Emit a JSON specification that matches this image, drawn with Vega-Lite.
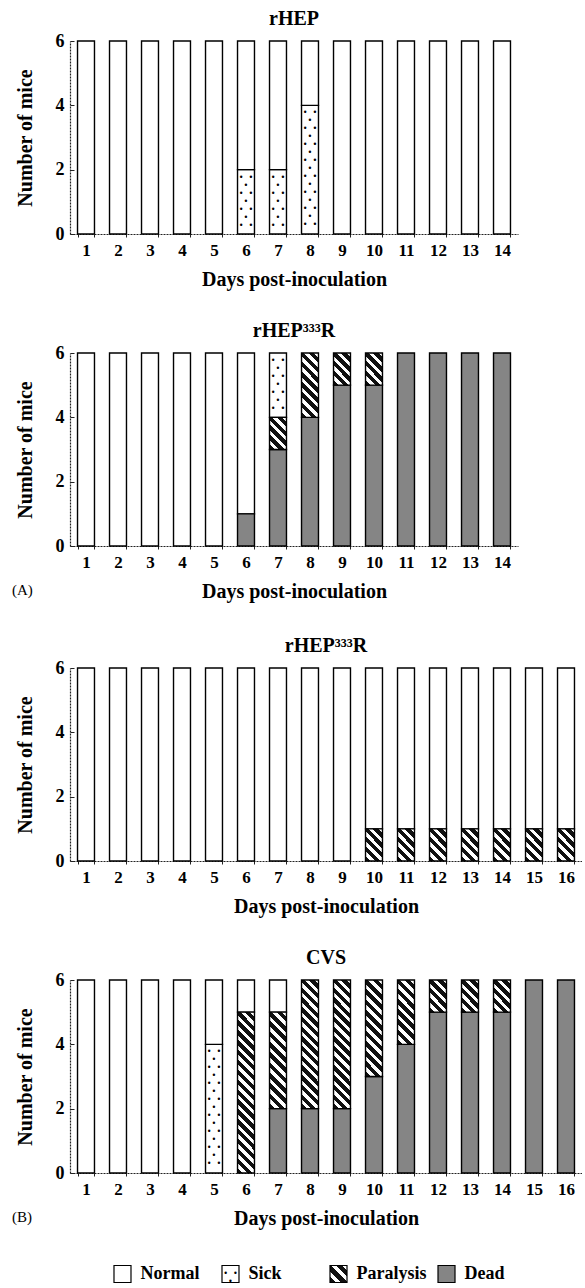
{
"$schema": "https://vega.github.io/schema/vega-lite/v6.json",
"background": "#ffffff",
"padding": {"left": 12, "top": 9, "right": 0, "bottom": 0},
"datasets": {
"mice": [
{"panel":"A1","day":1,"status":"Normal","count":6},
{"panel":"A1","day":2,"status":"Normal","count":6},
{"panel":"A1","day":3,"status":"Normal","count":6},
{"panel":"A1","day":4,"status":"Normal","count":6},
{"panel":"A1","day":5,"status":"Normal","count":6},
{"panel":"A1","day":6,"status":"Sick","count":2},
{"panel":"A1","day":6,"status":"Normal","count":4},
{"panel":"A1","day":7,"status":"Sick","count":2},
{"panel":"A1","day":7,"status":"Normal","count":4},
{"panel":"A1","day":8,"status":"Sick","count":4},
{"panel":"A1","day":8,"status":"Normal","count":2},
{"panel":"A1","day":9,"status":"Normal","count":6},
{"panel":"A1","day":10,"status":"Normal","count":6},
{"panel":"A1","day":11,"status":"Normal","count":6},
{"panel":"A1","day":12,"status":"Normal","count":6},
{"panel":"A1","day":13,"status":"Normal","count":6},
{"panel":"A1","day":14,"status":"Normal","count":6},
{"panel":"A2","day":1,"status":"Normal","count":6},
{"panel":"A2","day":2,"status":"Normal","count":6},
{"panel":"A2","day":3,"status":"Normal","count":6},
{"panel":"A2","day":4,"status":"Normal","count":6},
{"panel":"A2","day":5,"status":"Normal","count":6},
{"panel":"A2","day":6,"status":"Dead","count":1},
{"panel":"A2","day":6,"status":"Normal","count":5},
{"panel":"A2","day":7,"status":"Dead","count":3},
{"panel":"A2","day":7,"status":"Paralysis","count":1},
{"panel":"A2","day":7,"status":"Sick","count":2},
{"panel":"A2","day":8,"status":"Dead","count":4},
{"panel":"A2","day":8,"status":"Paralysis","count":2},
{"panel":"A2","day":9,"status":"Dead","count":5},
{"panel":"A2","day":9,"status":"Paralysis","count":1},
{"panel":"A2","day":10,"status":"Dead","count":5},
{"panel":"A2","day":10,"status":"Paralysis","count":1},
{"panel":"A2","day":11,"status":"Dead","count":6},
{"panel":"A2","day":12,"status":"Dead","count":6},
{"panel":"A2","day":13,"status":"Dead","count":6},
{"panel":"A2","day":14,"status":"Dead","count":6},
{"panel":"B1","day":1,"status":"Normal","count":6},
{"panel":"B1","day":2,"status":"Normal","count":6},
{"panel":"B1","day":3,"status":"Normal","count":6},
{"panel":"B1","day":4,"status":"Normal","count":6},
{"panel":"B1","day":5,"status":"Normal","count":6},
{"panel":"B1","day":6,"status":"Normal","count":6},
{"panel":"B1","day":7,"status":"Normal","count":6},
{"panel":"B1","day":8,"status":"Normal","count":6},
{"panel":"B1","day":9,"status":"Normal","count":6},
{"panel":"B1","day":10,"status":"Paralysis","count":1},
{"panel":"B1","day":10,"status":"Normal","count":5},
{"panel":"B1","day":11,"status":"Paralysis","count":1},
{"panel":"B1","day":11,"status":"Normal","count":5},
{"panel":"B1","day":12,"status":"Paralysis","count":1},
{"panel":"B1","day":12,"status":"Normal","count":5},
{"panel":"B1","day":13,"status":"Paralysis","count":1},
{"panel":"B1","day":13,"status":"Normal","count":5},
{"panel":"B1","day":14,"status":"Paralysis","count":1},
{"panel":"B1","day":14,"status":"Normal","count":5},
{"panel":"B1","day":15,"status":"Paralysis","count":1},
{"panel":"B1","day":15,"status":"Normal","count":5},
{"panel":"B1","day":16,"status":"Paralysis","count":1},
{"panel":"B1","day":16,"status":"Normal","count":5},
{"panel":"B2","day":1,"status":"Normal","count":6},
{"panel":"B2","day":2,"status":"Normal","count":6},
{"panel":"B2","day":3,"status":"Normal","count":6},
{"panel":"B2","day":4,"status":"Normal","count":6},
{"panel":"B2","day":5,"status":"Sick","count":4},
{"panel":"B2","day":5,"status":"Normal","count":2},
{"panel":"B2","day":6,"status":"Paralysis","count":5},
{"panel":"B2","day":6,"status":"Normal","count":1},
{"panel":"B2","day":7,"status":"Dead","count":2},
{"panel":"B2","day":7,"status":"Paralysis","count":3},
{"panel":"B2","day":7,"status":"Normal","count":1},
{"panel":"B2","day":8,"status":"Dead","count":2},
{"panel":"B2","day":8,"status":"Paralysis","count":4},
{"panel":"B2","day":9,"status":"Dead","count":2},
{"panel":"B2","day":9,"status":"Paralysis","count":4},
{"panel":"B2","day":10,"status":"Dead","count":3},
{"panel":"B2","day":10,"status":"Paralysis","count":3},
{"panel":"B2","day":11,"status":"Dead","count":4},
{"panel":"B2","day":11,"status":"Paralysis","count":2},
{"panel":"B2","day":12,"status":"Dead","count":5},
{"panel":"B2","day":12,"status":"Paralysis","count":1},
{"panel":"B2","day":13,"status":"Dead","count":5},
{"panel":"B2","day":13,"status":"Paralysis","count":1},
{"panel":"B2","day":14,"status":"Dead","count":5},
{"panel":"B2","day":14,"status":"Paralysis","count":1},
{"panel":"B2","day":15,"status":"Dead","count":6},
{"panel":"B2","day":16,"status":"Dead","count":6}
]
},
"config": {
"font": "Liberation Serif",
"view": {"stroke": null},
"title": {"font": "Liberation Serif", "fontSize": 20, "fontWeight": "bold", "color": "#000", "offset": 3},
"axis": {"labelFont": "Liberation Serif", "labelFontSize": 17, "labelFontWeight": "bold", "labelColor": "#000", "titleFont": "Liberation Serif", "titleFontWeight": "bold", "titleColor": "#000", "domainColor": "#222", "domainWidth": 1.2, "domainDash": [2, 1], "tickColor": "#222", "grid": false},
"axisX": {"labelAngle": 0, "titleFontSize": 20, "tickBand": "extent", "tickSize": 3, "labelPadding": 5, "titlePadding": 11},
"axisY": {"labelFontSize": 18, "titleFontSize": 20, "tickCount": 3, "tickSize": -4, "labelPadding": 10, "titlePadding": 20}
},
"spacing": 35,
"vconcat": [
{
"spacing": 32,
"title": {"text": "(A)", "orient": "bottom", "anchor": "start", "fontSize": 15, "fontWeight": "normal", "offset": -18, "dx": -3},
"vconcat": [
{
"title": "rHEP",
"width": 448, "height": 193,
"data": {"name": "mice"},
"transform": [
{"filter": {"field": "panel", "equal": "A1"}},
{"lookup": "status", "from": {"data": {"values": [{"status":"Normal","rank":0},{"status":"Sick","rank":1},{"status":"Paralysis","rank":2},{"status":"Dead","rank":3}]}, "key": "status", "fields": ["rank"]}},
{"stack": "count", "groupby": ["day"], "sort": [{"field": "rank", "order": "descending"}], "as": ["y0", "y1"]}
],
"encoding": {
"x": {"field": "day", "type": "ordinal", "scale": {"paddingInner": 0.47, "paddingOuter": 0.235}, "title": "Days post-inoculation"},
"y": {"field": "y0", "type": "quantitative", "scale": {"domain": [0, 6]}, "title": "Number of mice"},
"y2": {"field": "y1"}
},
"layer": [
{"transform": [{"filter": {"field": "status", "oneOf": ["Normal", "Sick"]}}], "mark": {"type": "bar", "fill": "#fff", "stroke": "#000", "strokeWidth": 1.4}},
{"transform": [{"filter": {"and": [{"field": "status", "equal": "Sick"}, {"field": "count", "equal": 2}]}}],
 "mark": {"type": "text", "font": "DejaVu Sans Mono", "fontSize": 8, "lineHeight": 8, "baseline": "top", "align": "center", "dy": 4, "fill": "#000",
 "text": ["\u2022\u00a0\u2022", "\u00a0\u2022\u00a0", "\u2022\u00a0\u2022", "\u00a0\u2022\u00a0", "\u2022\u00a0\u2022", "\u00a0\u2022\u00a0", "\u2022\u00a0\u2022"]},
 "encoding": {"y": {"field": "y1", "type": "quantitative", "scale": {"domain": [0, 6]}, "title": "Number of mice"}}},
{"transform": [{"filter": {"and": [{"field": "status", "equal": "Sick"}, {"field": "count", "equal": 4}]}}],
 "mark": {"type": "text", "font": "DejaVu Sans Mono", "fontSize": 8, "lineHeight": 8, "baseline": "top", "align": "center", "dy": 4, "fill": "#000",
 "text": ["\u2022\u00a0\u2022", "\u00a0\u2022\u00a0", "\u2022\u00a0\u2022", "\u00a0\u2022\u00a0", "\u2022\u00a0\u2022", "\u00a0\u2022\u00a0", "\u2022\u00a0\u2022", "\u00a0\u2022\u00a0", "\u2022\u00a0\u2022", "\u00a0\u2022\u00a0", "\u2022\u00a0\u2022", "\u00a0\u2022\u00a0", "\u2022\u00a0\u2022", "\u00a0\u2022\u00a0", "\u2022\u00a0\u2022"]},
 "encoding": {"y": {"field": "y1", "type": "quantitative", "scale": {"domain": [0, 6]}, "title": "Number of mice"}}}
]
},
{
"title": "rHEP\u00b3\u00b3\u00b3R",
"width": 448, "height": 193,
"data": {"name": "mice"},
"transform": [
{"filter": {"field": "panel", "equal": "A2"}},
{"lookup": "status", "from": {"data": {"values": [{"status":"Normal","rank":0},{"status":"Sick","rank":1},{"status":"Paralysis","rank":2},{"status":"Dead","rank":3}]}, "key": "status", "fields": ["rank"]}},
{"stack": "count", "groupby": ["day"], "sort": [{"field": "rank", "order": "descending"}], "as": ["y0", "y1"]}
],
"encoding": {
"x": {"field": "day", "type": "ordinal", "scale": {"paddingInner": 0.47, "paddingOuter": 0.235}, "title": "Days post-inoculation"},
"y": {"field": "y0", "type": "quantitative", "scale": {"domain": [0, 6]}, "title": "Number of mice"},
"y2": {"field": "y1"}
},
"layer": [
{"transform": [{"filter": {"field": "status", "oneOf": ["Normal", "Sick"]}}], "mark": {"type": "bar", "fill": "#fff", "stroke": "#000", "strokeWidth": 1.4}},
{"transform": [{"filter": {"field": "status", "equal": "Dead"}}], "mark": {"type": "bar", "fill": "#858585", "stroke": "#000", "strokeWidth": 1.4}},
{"transform": [{"filter": {"and": [{"field": "status", "equal": "Paralysis"}, {"field": "count", "equal": 1}]}}],
 "mark": {"type": "bar", "stroke": "#000", "strokeWidth": 1.4, "fill": {"gradient": "linear", "x1": 0, "y1": 1, "x2": 0.6315, "y2": -0.1948, "stops": [
{"offset":0,"color":"#111"},{"offset":0.11,"color":"#111"},{"offset":0.11,"color":"#fff"},{"offset":0.2,"color":"#fff"},
{"offset":0.2,"color":"#111"},{"offset":0.31,"color":"#111"},{"offset":0.31,"color":"#fff"},{"offset":0.4,"color":"#fff"},
{"offset":0.4,"color":"#111"},{"offset":0.51,"color":"#111"},{"offset":0.51,"color":"#fff"},{"offset":0.6,"color":"#fff"},
{"offset":0.6,"color":"#111"},{"offset":0.71,"color":"#111"},{"offset":0.71,"color":"#fff"},{"offset":0.8,"color":"#fff"},
{"offset":0.8,"color":"#111"},{"offset":0.91,"color":"#111"},{"offset":0.91,"color":"#fff"},{"offset":1,"color":"#fff"}]}}},
{"transform": [{"filter": {"and": [{"field": "status", "equal": "Paralysis"}, {"field": "count", "equal": 2}]}}],
 "mark": {"type": "bar", "stroke": "#000", "strokeWidth": 1.4, "fill": {"gradient": "linear", "x1": 0, "y1": 1, "x2": 0.3123, "y2": -0.1818, "stops": [
{"offset":0,"color":"#111"},{"offset":0.0688,"color":"#111"},{"offset":0.0688,"color":"#fff"},{"offset":0.125,"color":"#fff"},
{"offset":0.125,"color":"#111"},{"offset":0.1938,"color":"#111"},{"offset":0.1938,"color":"#fff"},{"offset":0.25,"color":"#fff"},
{"offset":0.25,"color":"#111"},{"offset":0.3188,"color":"#111"},{"offset":0.3188,"color":"#fff"},{"offset":0.375,"color":"#fff"},
{"offset":0.375,"color":"#111"},{"offset":0.4438,"color":"#111"},{"offset":0.4438,"color":"#fff"},{"offset":0.5,"color":"#fff"},
{"offset":0.5,"color":"#111"},{"offset":0.5688,"color":"#111"},{"offset":0.5688,"color":"#fff"},{"offset":0.625,"color":"#fff"},
{"offset":0.625,"color":"#111"},{"offset":0.6938,"color":"#111"},{"offset":0.6938,"color":"#fff"},{"offset":0.75,"color":"#fff"},
{"offset":0.75,"color":"#111"},{"offset":0.8188,"color":"#111"},{"offset":0.8188,"color":"#fff"},{"offset":0.875,"color":"#fff"},
{"offset":0.875,"color":"#111"},{"offset":0.9438,"color":"#111"},{"offset":0.9438,"color":"#fff"},{"offset":1,"color":"#fff"}]}}},
{"transform": [{"filter": {"and": [{"field": "status", "equal": "Sick"}, {"field": "count", "equal": 2}]}}],
 "mark": {"type": "text", "font": "DejaVu Sans Mono", "fontSize": 8, "lineHeight": 8, "baseline": "top", "align": "center", "dy": 4, "fill": "#000",
 "text": ["\u2022\u00a0\u2022", "\u00a0\u2022\u00a0", "\u2022\u00a0\u2022", "\u00a0\u2022\u00a0", "\u2022\u00a0\u2022", "\u00a0\u2022\u00a0", "\u2022\u00a0\u2022"]},
 "encoding": {"y": {"field": "y1", "type": "quantitative", "scale": {"domain": [0, 6]}, "title": "Number of mice"}}}
]
}
]
},
{
"spacing": 32,
"title": {"text": "(B)", "orient": "bottom", "anchor": "start", "fontSize": 15, "fontWeight": "normal", "offset": -18, "dx": -3},
"vconcat": [
{
"title": "rHEP\u00b3\u00b3\u00b3R",
"width": 512, "height": 193,
"data": {"name": "mice"},
"transform": [
{"filter": {"field": "panel", "equal": "B1"}},
{"lookup": "status", "from": {"data": {"values": [{"status":"Normal","rank":0},{"status":"Sick","rank":1},{"status":"Paralysis","rank":2},{"status":"Dead","rank":3}]}, "key": "status", "fields": ["rank"]}},
{"stack": "count", "groupby": ["day"], "sort": [{"field": "rank", "order": "descending"}], "as": ["y0", "y1"]}
],
"encoding": {
"x": {"field": "day", "type": "ordinal", "scale": {"paddingInner": 0.47, "paddingOuter": 0.235}, "title": "Days post-inoculation"},
"y": {"field": "y0", "type": "quantitative", "scale": {"domain": [0, 6]}, "title": "Number of mice"},
"y2": {"field": "y1"}
},
"layer": [
{"transform": [{"filter": {"field": "status", "oneOf": ["Normal", "Sick"]}}], "mark": {"type": "bar", "fill": "#fff", "stroke": "#000", "strokeWidth": 1.4}},
{"transform": [{"filter": {"and": [{"field": "status", "equal": "Paralysis"}, {"field": "count", "equal": 1}]}}],
 "mark": {"type": "bar", "stroke": "#000", "strokeWidth": 1.4, "fill": {"gradient": "linear", "x1": 0, "y1": 1, "x2": 0.6315, "y2": -0.1948, "stops": [
{"offset":0,"color":"#111"},{"offset":0.11,"color":"#111"},{"offset":0.11,"color":"#fff"},{"offset":0.2,"color":"#fff"},
{"offset":0.2,"color":"#111"},{"offset":0.31,"color":"#111"},{"offset":0.31,"color":"#fff"},{"offset":0.4,"color":"#fff"},
{"offset":0.4,"color":"#111"},{"offset":0.51,"color":"#111"},{"offset":0.51,"color":"#fff"},{"offset":0.6,"color":"#fff"},
{"offset":0.6,"color":"#111"},{"offset":0.71,"color":"#111"},{"offset":0.71,"color":"#fff"},{"offset":0.8,"color":"#fff"},
{"offset":0.8,"color":"#111"},{"offset":0.91,"color":"#111"},{"offset":0.91,"color":"#fff"},{"offset":1,"color":"#fff"}]}}}
]
},
{
"title": "CVS",
"width": 512, "height": 193,
"data": {"name": "mice"},
"transform": [
{"filter": {"field": "panel", "equal": "B2"}},
{"lookup": "status", "from": {"data": {"values": [{"status":"Normal","rank":0},{"status":"Sick","rank":1},{"status":"Paralysis","rank":2},{"status":"Dead","rank":3}]}, "key": "status", "fields": ["rank"]}},
{"stack": "count", "groupby": ["day"], "sort": [{"field": "rank", "order": "descending"}], "as": ["y0", "y1"]}
],
"encoding": {
"x": {"field": "day", "type": "ordinal", "scale": {"paddingInner": 0.47, "paddingOuter": 0.235}, "title": "Days post-inoculation"},
"y": {"field": "y0", "type": "quantitative", "scale": {"domain": [0, 6]}, "title": "Number of mice"},
"y2": {"field": "y1"}
},
"layer": [
{"transform": [{"filter": {"field": "status", "oneOf": ["Normal", "Sick"]}}], "mark": {"type": "bar", "fill": "#fff", "stroke": "#000", "strokeWidth": 1.4}},
{"transform": [{"filter": {"field": "status", "equal": "Dead"}}], "mark": {"type": "bar", "fill": "#858585", "stroke": "#000", "strokeWidth": 1.4}},
{"transform": [{"filter": {"and": [{"field": "status", "equal": "Paralysis"}, {"field": "count", "equal": 1}]}}],
 "mark": {"type": "bar", "stroke": "#000", "strokeWidth": 1.4, "fill": {"gradient": "linear", "x1": 0, "y1": 1, "x2": 0.6315, "y2": -0.1948, "stops": [
{"offset":0,"color":"#111"},{"offset":0.11,"color":"#111"},{"offset":0.11,"color":"#fff"},{"offset":0.2,"color":"#fff"},
{"offset":0.2,"color":"#111"},{"offset":0.31,"color":"#111"},{"offset":0.31,"color":"#fff"},{"offset":0.4,"color":"#fff"},
{"offset":0.4,"color":"#111"},{"offset":0.51,"color":"#111"},{"offset":0.51,"color":"#fff"},{"offset":0.6,"color":"#fff"},
{"offset":0.6,"color":"#111"},{"offset":0.71,"color":"#111"},{"offset":0.71,"color":"#fff"},{"offset":0.8,"color":"#fff"},
{"offset":0.8,"color":"#111"},{"offset":0.91,"color":"#111"},{"offset":0.91,"color":"#fff"},{"offset":1,"color":"#fff"}]}}},
{"transform": [{"filter": {"and": [{"field": "status", "equal": "Paralysis"}, {"field": "count", "equal": 2}]}}],
 "mark": {"type": "bar", "stroke": "#000", "strokeWidth": 1.4, "fill": {"gradient": "linear", "x1": 0, "y1": 1, "x2": 0.3123, "y2": -0.1818, "stops": [
{"offset":0,"color":"#111"},{"offset":0.0688,"color":"#111"},{"offset":0.0688,"color":"#fff"},{"offset":0.125,"color":"#fff"},
{"offset":0.125,"color":"#111"},{"offset":0.1938,"color":"#111"},{"offset":0.1938,"color":"#fff"},{"offset":0.25,"color":"#fff"},
{"offset":0.25,"color":"#111"},{"offset":0.3188,"color":"#111"},{"offset":0.3188,"color":"#fff"},{"offset":0.375,"color":"#fff"},
{"offset":0.375,"color":"#111"},{"offset":0.4438,"color":"#111"},{"offset":0.4438,"color":"#fff"},{"offset":0.5,"color":"#fff"},
{"offset":0.5,"color":"#111"},{"offset":0.5688,"color":"#111"},{"offset":0.5688,"color":"#fff"},{"offset":0.625,"color":"#fff"},
{"offset":0.625,"color":"#111"},{"offset":0.6938,"color":"#111"},{"offset":0.6938,"color":"#fff"},{"offset":0.75,"color":"#fff"},
{"offset":0.75,"color":"#111"},{"offset":0.8188,"color":"#111"},{"offset":0.8188,"color":"#fff"},{"offset":0.875,"color":"#fff"},
{"offset":0.875,"color":"#111"},{"offset":0.9438,"color":"#111"},{"offset":0.9438,"color":"#fff"},{"offset":1,"color":"#fff"}]}}},
{"transform": [{"filter": {"and": [{"field": "status", "equal": "Paralysis"}, {"field": "count", "equal": 3}]}}],
 "mark": {"type": "bar", "stroke": "#000", "strokeWidth": 1.4, "fill": {"gradient": "linear", "x1": 0, "y1": 1, "x2": 0.201, "y2": -0.1409, "stops": [
{"offset":0,"color":"#111"},{"offset":0.05,"color":"#111"},{"offset":0.05,"color":"#fff"},{"offset":0.0909,"color":"#fff"},
{"offset":0.0909,"color":"#111"},{"offset":0.1409,"color":"#111"},{"offset":0.1409,"color":"#fff"},{"offset":0.1818,"color":"#fff"},
{"offset":0.1818,"color":"#111"},{"offset":0.2318,"color":"#111"},{"offset":0.2318,"color":"#fff"},{"offset":0.2727,"color":"#fff"},
{"offset":0.2727,"color":"#111"},{"offset":0.3227,"color":"#111"},{"offset":0.3227,"color":"#fff"},{"offset":0.3636,"color":"#fff"},
{"offset":0.3636,"color":"#111"},{"offset":0.4136,"color":"#111"},{"offset":0.4136,"color":"#fff"},{"offset":0.4545,"color":"#fff"},
{"offset":0.4545,"color":"#111"},{"offset":0.5045,"color":"#111"},{"offset":0.5045,"color":"#fff"},{"offset":0.5455,"color":"#fff"},
{"offset":0.5455,"color":"#111"},{"offset":0.5955,"color":"#111"},{"offset":0.5955,"color":"#fff"},{"offset":0.6364,"color":"#fff"},
{"offset":0.6364,"color":"#111"},{"offset":0.6864,"color":"#111"},{"offset":0.6864,"color":"#fff"},{"offset":0.7273,"color":"#fff"},
{"offset":0.7273,"color":"#111"},{"offset":0.7773,"color":"#111"},{"offset":0.7773,"color":"#fff"},{"offset":0.8182,"color":"#fff"},
{"offset":0.8182,"color":"#111"},{"offset":0.8682,"color":"#111"},{"offset":0.8682,"color":"#fff"},{"offset":0.9091,"color":"#fff"},
{"offset":0.9091,"color":"#111"},{"offset":0.9591,"color":"#111"},{"offset":0.9591,"color":"#fff"},{"offset":1,"color":"#fff"}]}}},
{"transform": [{"filter": {"and": [{"field": "status", "equal": "Paralysis"}, {"field": "count", "equal": 4}]}}],
 "mark": {"type": "bar", "stroke": "#000", "strokeWidth": 1.4, "fill": {"gradient": "linear", "x1": 0, "y1": 1, "x2": 0.147, "y2": -0.1127, "stops": [
{"offset":0,"color":"#111"},{"offset":0.0367,"color":"#111"},{"offset":0.0367,"color":"#fff"},{"offset":0.0667,"color":"#fff"},
{"offset":0.0667,"color":"#111"},{"offset":0.1033,"color":"#111"},{"offset":0.1033,"color":"#fff"},{"offset":0.1333,"color":"#fff"},
{"offset":0.1333,"color":"#111"},{"offset":0.17,"color":"#111"},{"offset":0.17,"color":"#fff"},{"offset":0.2,"color":"#fff"},
{"offset":0.2,"color":"#111"},{"offset":0.2367,"color":"#111"},{"offset":0.2367,"color":"#fff"},{"offset":0.2667,"color":"#fff"},
{"offset":0.2667,"color":"#111"},{"offset":0.3033,"color":"#111"},{"offset":0.3033,"color":"#fff"},{"offset":0.3333,"color":"#fff"},
{"offset":0.3333,"color":"#111"},{"offset":0.37,"color":"#111"},{"offset":0.37,"color":"#fff"},{"offset":0.4,"color":"#fff"},
{"offset":0.4,"color":"#111"},{"offset":0.4367,"color":"#111"},{"offset":0.4367,"color":"#fff"},{"offset":0.4667,"color":"#fff"},
{"offset":0.4667,"color":"#111"},{"offset":0.5033,"color":"#111"},{"offset":0.5033,"color":"#fff"},{"offset":0.5333,"color":"#fff"},
{"offset":0.5333,"color":"#111"},{"offset":0.57,"color":"#111"},{"offset":0.57,"color":"#fff"},{"offset":0.6,"color":"#fff"},
{"offset":0.6,"color":"#111"},{"offset":0.6367,"color":"#111"},{"offset":0.6367,"color":"#fff"},{"offset":0.6667,"color":"#fff"},
{"offset":0.6667,"color":"#111"},{"offset":0.7033,"color":"#111"},{"offset":0.7033,"color":"#fff"},{"offset":0.7333,"color":"#fff"},
{"offset":0.7333,"color":"#111"},{"offset":0.77,"color":"#111"},{"offset":0.77,"color":"#fff"},{"offset":0.8,"color":"#fff"},
{"offset":0.8,"color":"#111"},{"offset":0.8367,"color":"#111"},{"offset":0.8367,"color":"#fff"},{"offset":0.8667,"color":"#fff"},
{"offset":0.8667,"color":"#111"},{"offset":0.9033,"color":"#111"},{"offset":0.9033,"color":"#fff"},{"offset":0.9333,"color":"#fff"},
{"offset":0.9333,"color":"#111"},{"offset":0.97,"color":"#111"},{"offset":0.97,"color":"#fff"},{"offset":1,"color":"#fff"}]}}},
{"transform": [{"filter": {"and": [{"field": "status", "equal": "Paralysis"}, {"field": "count", "equal": 5}]}}],
 "mark": {"type": "bar", "stroke": "#000", "strokeWidth": 1.4, "fill": {"gradient": "linear", "x1": 0, "y1": 1, "x2": 0.1156, "y2": -0.0935, "stops": [
{"offset":0,"color":"#111"},{"offset":0.0306,"color":"#111"},{"offset":0.0306,"color":"#fff"},{"offset":0.0556,"color":"#fff"},
{"offset":0.0556,"color":"#111"},{"offset":0.0861,"color":"#111"},{"offset":0.0861,"color":"#fff"},{"offset":0.1111,"color":"#fff"},
{"offset":0.1111,"color":"#111"},{"offset":0.1417,"color":"#111"},{"offset":0.1417,"color":"#fff"},{"offset":0.1667,"color":"#fff"},
{"offset":0.1667,"color":"#111"},{"offset":0.1972,"color":"#111"},{"offset":0.1972,"color":"#fff"},{"offset":0.2222,"color":"#fff"},
{"offset":0.2222,"color":"#111"},{"offset":0.2528,"color":"#111"},{"offset":0.2528,"color":"#fff"},{"offset":0.2778,"color":"#fff"},
{"offset":0.2778,"color":"#111"},{"offset":0.3083,"color":"#111"},{"offset":0.3083,"color":"#fff"},{"offset":0.3333,"color":"#fff"},
{"offset":0.3333,"color":"#111"},{"offset":0.3639,"color":"#111"},{"offset":0.3639,"color":"#fff"},{"offset":0.3889,"color":"#fff"},
{"offset":0.3889,"color":"#111"},{"offset":0.4194,"color":"#111"},{"offset":0.4194,"color":"#fff"},{"offset":0.4444,"color":"#fff"},
{"offset":0.4444,"color":"#111"},{"offset":0.475,"color":"#111"},{"offset":0.475,"color":"#fff"},{"offset":0.5,"color":"#fff"},
{"offset":0.5,"color":"#111"},{"offset":0.5306,"color":"#111"},{"offset":0.5306,"color":"#fff"},{"offset":0.5556,"color":"#fff"},
{"offset":0.5556,"color":"#111"},{"offset":0.5861,"color":"#111"},{"offset":0.5861,"color":"#fff"},{"offset":0.6111,"color":"#fff"},
{"offset":0.6111,"color":"#111"},{"offset":0.6417,"color":"#111"},{"offset":0.6417,"color":"#fff"},{"offset":0.6667,"color":"#fff"},
{"offset":0.6667,"color":"#111"},{"offset":0.6972,"color":"#111"},{"offset":0.6972,"color":"#fff"},{"offset":0.7222,"color":"#fff"},
{"offset":0.7222,"color":"#111"},{"offset":0.7528,"color":"#111"},{"offset":0.7528,"color":"#fff"},{"offset":0.7778,"color":"#fff"},
{"offset":0.7778,"color":"#111"},{"offset":0.8083,"color":"#111"},{"offset":0.8083,"color":"#fff"},{"offset":0.8333,"color":"#fff"},
{"offset":0.8333,"color":"#111"},{"offset":0.8639,"color":"#111"},{"offset":0.8639,"color":"#fff"},{"offset":0.8889,"color":"#fff"},
{"offset":0.8889,"color":"#111"},{"offset":0.9194,"color":"#111"},{"offset":0.9194,"color":"#fff"},{"offset":0.9444,"color":"#fff"},
{"offset":0.9444,"color":"#111"},{"offset":0.975,"color":"#111"},{"offset":0.975,"color":"#fff"},{"offset":1,"color":"#fff"}]}}},
{"transform": [{"filter": {"and": [{"field": "status", "equal": "Sick"}, {"field": "count", "equal": 4}]}}],
 "mark": {"type": "text", "font": "DejaVu Sans Mono", "fontSize": 8, "lineHeight": 8, "baseline": "top", "align": "center", "dy": 4, "fill": "#000",
 "text": ["\u2022\u00a0\u2022", "\u00a0\u2022\u00a0", "\u2022\u00a0\u2022", "\u00a0\u2022\u00a0", "\u2022\u00a0\u2022", "\u00a0\u2022\u00a0", "\u2022\u00a0\u2022", "\u00a0\u2022\u00a0", "\u2022\u00a0\u2022", "\u00a0\u2022\u00a0", "\u2022\u00a0\u2022", "\u00a0\u2022\u00a0", "\u2022\u00a0\u2022", "\u00a0\u2022\u00a0", "\u2022\u00a0\u2022"]},
 "encoding": {"y": {"field": "y1", "type": "quantitative", "scale": {"domain": [0, 6]}, "title": "Number of mice"}}}
]
}
]
},
{
"width": 429, "height": 20,
"data": {"values": [{"status":"Normal"},{"status":"Sick"},{"status":"Paralysis"},{"status":"Dead"}]},
"encoding": {"x": {"field": "status", "type": "nominal", "sort": ["Normal", "Sick", "Paralysis", "Dead"], "scale": {"type": "point", "padding": 0.486}, "axis": null}},
"layer": [
{"transform": [{"filter": {"field": "status", "oneOf": ["Normal", "Sick"]}}], "mark": {"type": "point", "shape": "square", "size": 289, "filled": true, "fill": "#fff", "stroke": "#000", "strokeWidth": 1.2, "opacity": 1}},
{"transform": [{"filter": {"field": "status", "equal": "Dead"}}], "mark": {"type": "point", "shape": "square", "size": 289, "filled": true, "fill": "#858585", "stroke": "#000", "strokeWidth": 1.2, "opacity": 1}},
{"transform": [{"filter": {"field": "status", "equal": "Paralysis"}}], "mark": {"type": "point", "shape": "square", "size": 289, "filled": true, "stroke": "#000", "strokeWidth": 1.2, "opacity": 1, "fill": {"gradient": "linear", "x1": 0, "y1": 1, "x2": 1, "y2": 0, "stops": [
{"offset":0,"color":"#111"},{"offset":0.1833,"color":"#111"},{"offset":0.1833,"color":"#fff"},{"offset":0.3333,"color":"#fff"},
{"offset":0.3333,"color":"#111"},{"offset":0.5167,"color":"#111"},{"offset":0.5167,"color":"#fff"},{"offset":0.6667,"color":"#fff"},
{"offset":0.6667,"color":"#111"},{"offset":0.85,"color":"#111"},{"offset":0.85,"color":"#fff"},{"offset":1,"color":"#fff"}]}}},
{"transform": [{"filter": {"field": "status", "equal": "Sick"}}], "mark": {"type": "text", "font": "DejaVu Sans Mono", "fontSize": 8, "lineHeight": 8, "baseline": "middle", "align": "center", "fill": "#000", "text": ["\u2022\u00a0\u2022", "\u00a0\u2022\u00a0"]}},
{"mark": {"type": "text", "align": "left", "baseline": "middle", "dx": 18, "font": "Liberation Serif", "fontSize": 18, "fontWeight": "bold", "fill": "#000"}, "encoding": {"text": {"field": "status"}}}
]
}
]
}
